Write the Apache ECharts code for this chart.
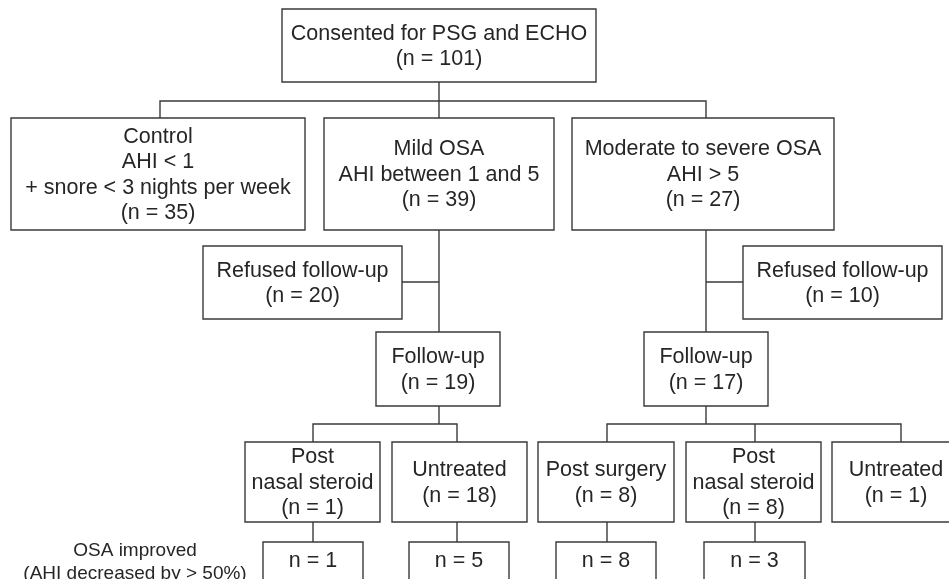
<!DOCTYPE html>
<html>
<head>
<meta charset="utf-8">
<script src="https://cdn.jsdelivr.net/npm/echarts@6/dist/echarts.min.js"></script>
<style>
  html, body { margin: 0; padding: 0; background: #fff; }
  #chart { width: 949px; height: 579px; }
</style>
</head>
<body>
<div id="chart"></div>
<script>
// box texts (without the counts) and the counts
var nodeText = [
  'Consented for PSG and ECHO',
  'Control\nAHI < 1\n+ snore < 3 nights per week',
  'Mild OSA\nAHI between 1 and 5',
  'Moderate to severe OSA\nAHI > 5',
  'Refused follow-up',
  'Refused follow-up',
  'Follow-up',
  'Follow-up',
  'Post\nnasal steroid',
  'Untreated',
  'Post surgery',
  'Post\nnasal steroid',
  'Untreated',
  '', '', '', ''
]
var nodeCounts = [101, 35, 39, 27, 20, 10, 19, 17, 1, 18, 8, 8, 1, 1, 5, 8, 3]
var rowLabel = ['OSA improved', '(AHI decreased by > 50%)']

// layout: box corners [x0, y0, x1, y1, textCenterY?] in page units
var boxes = [
  [282, 9, 596, 82],
  [11, 118, 305, 230],
  [324, 118, 554, 230],
  [572, 118, 834, 230],
  [203, 246, 402, 319],
  [743, 246, 942, 319],
  [376, 332, 500, 406],
  [644, 332, 768, 406],
  [245, 442, 380, 522],
  [392, 442, 527, 522],
  [538, 442, 674, 522],
  [686, 442, 821, 522],
  [832, 442, 960, 522],
  [263, 542, 363, 600, 561],
  [409, 542, 509, 600, 561],
  [556, 542, 656, 600, 561],
  [704, 542, 805, 600, 561]
]
var links = [
  [[439, 82], [439, 118]],
  [[160, 118], [160, 101], [706, 101], [706, 118]],
  [[439, 230], [439, 332]],
  [[402, 282], [439, 282]],
  [[706, 230], [706, 332]],
  [[706, 282], [743, 282]],
  [[439, 406], [439, 424]],
  [[313, 442], [313, 424], [457, 424], [457, 442]],
  [[706, 406], [706, 424]],
  [[607, 442], [607, 424], [901, 424], [901, 442]],
  [[755, 424], [755, 442]],
  [[313, 522], [313, 542]],
  [[457, 522], [457, 542]],
  [[607, 522], [607, 542]],
  [[755, 522], [755, 542]]
]

var lineColor = '#3a3a3a'
var textColor = '#262626'
var fontFamily = '"Liberation Sans", Arial, Helvetica, sans-serif'

var boxData = nodeText.map(function (t, i) {
  var b = boxes[i]
  var label = t === '' ? 'n = ' + nodeCounts[i] : t + '\n(n = ' + nodeCounts[i] + ')'
  return { value: [b[0], b[1], b[2], b[3], b[4] == null ? (b[1] + b[3]) / 2 + 1 : b[4]], label: label }
})

var chart = echarts.init(document.getElementById('chart'))
chart.setOption({
  animation: false,
  grid: { left: 0, right: 0, top: 0, bottom: 0 },
  xAxis: { type: 'value', min: 0, max: 949, show: false },
  yAxis: { type: 'value', min: 0, max: 579, inverse: true, show: false },
  series: [
    {
      type: 'lines',
      coordinateSystem: 'cartesian2d',
      polyline: true,
      silent: true,
      lineStyle: { color: lineColor, width: 1.4, opacity: 1 },
      data: links.map(function (c) { return { coords: c } })
    },
    {
      type: 'custom',
      silent: true,
      data: boxData,
      renderItem: function (params, api) {
        var p0 = api.coord([api.value(0), api.value(1)])
        var p1 = api.coord([api.value(2), api.value(3)])
        var tc = api.coord([(api.value(0) + api.value(2)) / 2, api.value(4)])
        return {
          type: 'group',
          children: [
            {
              type: 'rect',
              shape: { x: p0[0], y: p0[1], width: p1[0] - p0[0], height: p1[1] - p0[1] },
              style: { fill: '#fff', stroke: lineColor, lineWidth: 1.4 }
            },
            {
              type: 'text',
              style: {
                text: boxData[params.dataIndex].label,
                x: tc[0], y: tc[1],
                align: 'center', verticalAlign: 'middle',
                font: '21.5px ' + fontFamily,
                lineHeight: 25.5,
                fill: textColor
              }
            }
          ]
        }
      }
    },
    {
      type: 'custom',
      silent: true,
      data: [[135, 562]],
      renderItem: function (params, api) {
        var c = api.coord([api.value(0), api.value(1)])
        return {
          type: 'text',
          style: {
            text: rowLabel.join('\n'),
            x: c[0], y: c[1],
            align: 'center', verticalAlign: 'middle',
            font: '19px ' + fontFamily,
            lineHeight: 23,
            fill: textColor
          }
        }
      }
    }
  ]
})
</script>
</body>
</html>
